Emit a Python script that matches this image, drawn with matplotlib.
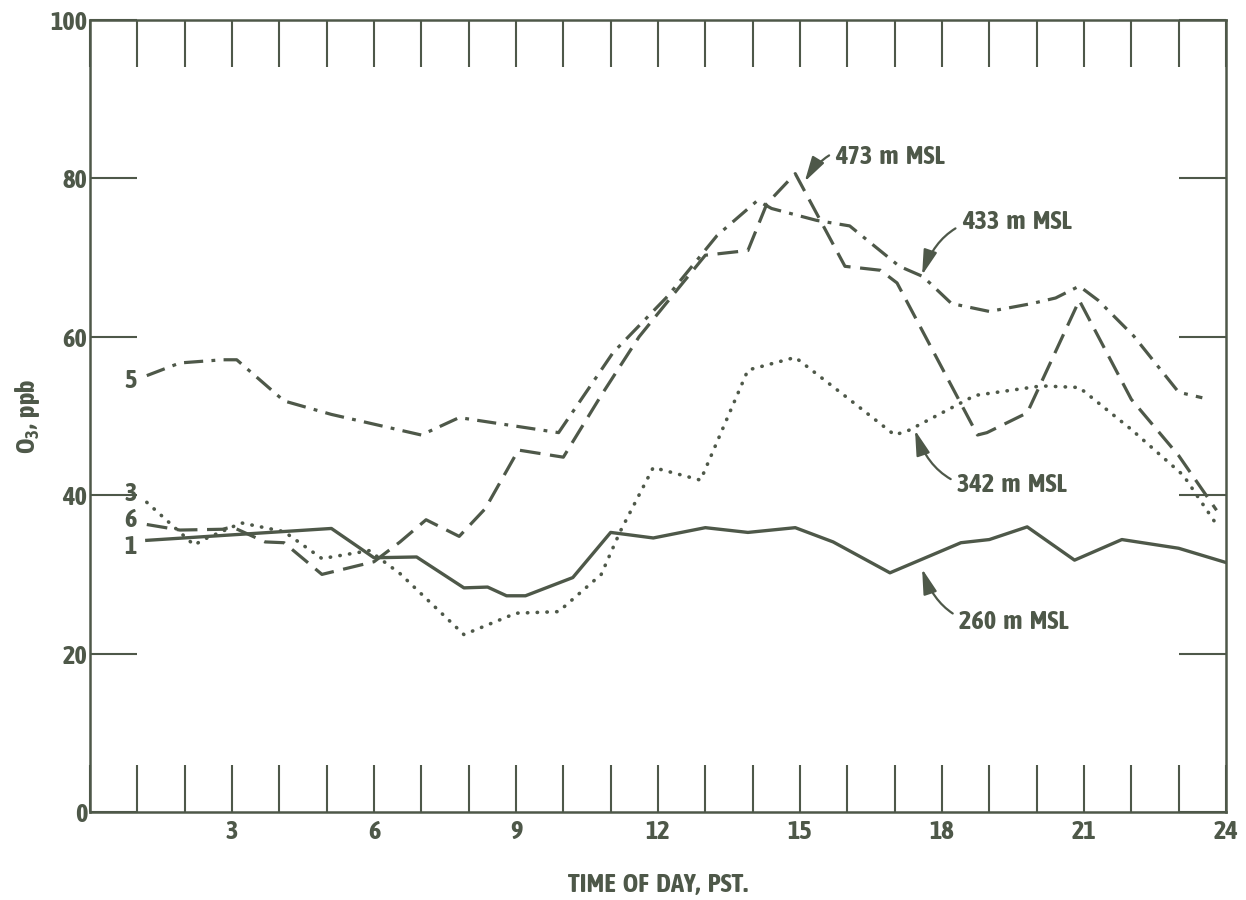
import matplotlib.pyplot as plt

ink = '#4e5849'
fnt = ['Asap Condensed', 'Liberation Sans Narrow', 'DejaVu Sans']
plt.rcParams['font.family'] = fnt
plt.rcParams['font.weight'] = 'bold'
plt.rcParams['axes.labelweight'] = 'bold'
plt.rcParams['mathtext.fontset'] = 'custom'
plt.rcParams['mathtext.rm'] = 'Asap Condensed:bold'
plt.rcParams['mathtext.default'] = 'rm'

# 260 m MSL (solid, "1")
h260 = [1.2, 5.1, 6.0, 6.9, 7.9, 8.4, 8.8, 9.2, 10.2, 11.0, 11.9, 13.0, 13.9, 14.9,
        15.7, 16.9, 18.4, 19.0, 19.8, 20.8, 21.8, 23.0, 24.0]
o260 = [34.3, 35.8, 32.1, 32.2, 28.3, 28.4, 27.3, 27.3, 29.6, 35.3, 34.6, 35.9, 35.3, 35.9,
        34.1, 30.2, 34.0, 34.4, 36.0, 31.8, 34.4, 33.3, 31.5]

# 342 m MSL (dotted, "3")
h342 = [1.2, 2.2, 2.4, 3.2, 4.1, 4.9, 5.9, 6.55, 7.9, 9.0, 9.9, 10.8, 11.2, 11.9, 12.9,
        13.9, 14.9, 16.0, 17.0, 17.3, 18.7, 20.1, 20.9, 22.0, 23.1, 23.8]
o342 = [39.1, 33.7, 34.4, 36.5, 35.4, 32.0, 33.0, 30.1, 22.4, 25.1, 25.3, 30.0, 35.4, 43.5, 41.9,
        55.8, 57.4, 52.3, 47.6, 48.2, 52.6, 53.8, 53.6, 48.3, 42.5, 36.3]

# 433 m MSL (dash-dot, "5")
h433 = [1.2, 1.9, 2.8, 3.1, 4.1, 5.1, 7.0, 7.8, 9.9, 11.05, 12.2, 13.25, 14.1, 14.4, 15.35,
        16.05, 17.1, 17.6, 18.2, 19.0, 19.9, 20.4, 20.9, 21.3, 22.05, 23.0, 23.5]
o433 = [55.1, 56.7, 57.1, 57.1, 51.9, 50.2, 47.6, 49.8, 47.9, 58.0, 65.1, 72.8, 77.2, 76.2, 74.7,
        74.0, 68.9, 67.6, 64.2, 63.2, 64.2, 64.9, 66.4, 64.6, 60.1, 53.0, 52.3]

# 473 m MSL (dashed, "6")
h473 = [1.2, 1.9, 2.8, 3.0, 3.7, 4.1, 4.9, 6.0, 6.55, 7.1, 7.8, 8.35, 9.05, 10.0, 10.8, 11.6,
        12.4, 13.0, 13.9, 14.3, 14.9, 15.95, 16.7, 17.05, 18.75, 18.95, 19.8, 20.9, 22.0, 23.0, 23.8]
o473 = [36.3, 35.6, 35.7, 36.0, 34.1, 34.0, 30.0, 31.6, 34.1, 36.9, 34.8, 38.3, 45.7, 44.8, 52.6, 60.0,
        65.9, 70.3, 70.9, 76.8, 80.6, 68.9, 68.4, 66.8, 47.6, 47.9, 50.4, 64.6, 52.1, 45.0, 38.1]

series_tags = ['5', '3', '6', '1']
tag_y = [54.5, 40.2, 36.9, 33.5]

notes = ['473 m MSL', '433 m MSL', '342 m MSL', '260 m MSL']
note_xy = [(15.1, 79.6), (17.58, 67.8), (17.43, 48.2), (17.58, 30.7)]
note_txt = [(15.75, 82.8), (18.42, 74.5), (18.32, 41.3), (18.36, 24.1)]
note_rad = [0.45, 0.45, -0.45, -0.45]

fs = 19

fig = plt.figure(figsize=(12.46, 9), dpi=100)
ax = fig.add_axes([90 / 1246, 88 / 900, 1136 / 1246, 792 / 900])

ax.plot(h260, o260, color=ink, lw=2.4, solid_joinstyle='round')
ax.plot(h342, o342, color=ink, lw=2.6, linestyle=(0, (0.1, 2.6)), dash_capstyle='round')
ax.plot(h433, o433, color=ink, lw=2.3, linestyle=(0, (6, 2.6, 1.2, 2.6)))
ax.plot(h473, o473, color=ink, lw=2.3, linestyle=(0, (6.5, 3)))

for t, yv in zip(series_tags, tag_y):
    ax.text(0.85, yv, t, color=ink, fontsize=fs, ha='center', va='center')

for t, xy, xt, r in zip(notes, note_xy, note_txt, note_rad):
    ax.annotate(t.replace(' ', '  '), xy=xy, xytext=xt, color=ink, fontsize=fs,
                ha='left', va='center',
                arrowprops=dict(arrowstyle='-|>,head_length=0.8,head_width=0.22', color=ink,
                                lw=1.6, connectionstyle='arc3,rad=%s' % r,
                                shrinkA=3, shrinkB=0))

ax.set_xlim(0, 24)
ax.set_ylim(0, 100)
ax.set_xticks(range(0, 25))
ax.set_xticklabels([str(i) if i % 3 == 0 and i > 0 else '' for i in range(0, 25)])
ax.set_yticks(range(0, 101, 20))
ax.tick_params(axis='x', direction='in', length=34, width=1.5, color=ink, top=True,
               labelcolor=ink, labelsize=fs, pad=5)
ax.tick_params(axis='y', direction='in', length=34, width=1.5, color=ink, right=True,
               labelcolor=ink, labelsize=fs, pad=2)
for s in ax.spines.values():
    s.set_color(ink)
    s.set_linewidth(1.8)

ax.set_xlabel('TIME  OF  DAY,  PST.', color=ink, fontsize=fs, labelpad=20)
ax.set_ylabel('O$_3$,  ppb', color=ink, fontsize=fs, labelpad=6)

fig.savefig('out.png', dpi=100)
